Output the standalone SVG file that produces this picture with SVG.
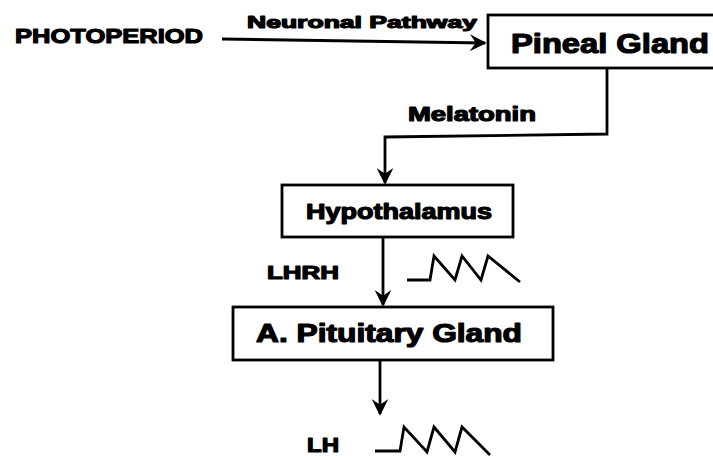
<svg xmlns="http://www.w3.org/2000/svg" width="713" height="456" viewBox="0 0 713 456">
<defs>
<marker id="ah" viewBox="0 0 10 10" refX="9" refY="5" markerWidth="6" markerHeight="6" orient="auto" markerUnits="strokeWidth">
<path d="M0,0 L10,5 L0,10 L3.5,5 z" fill="#000"/>
</marker>
<style>
.t{font-family:"Liberation Sans",Arial,sans-serif;font-weight:bold;fill:#000;stroke:#000;stroke-width:1.2;stroke-linejoin:round;}
.box{fill:#fff;stroke:#000;stroke-width:2.8;}
.ln{fill:none;stroke:#000;stroke-width:2.8;}
.wv{fill:none;stroke:#000;stroke-width:2.8;stroke-linejoin:miter;}
</style>
</defs>
<rect width="713" height="456" fill="#fff"/>
<g id="photoperiod">
<text class="t" x="15" y="43" font-size="21" textLength="188" lengthAdjust="spacingAndGlyphs">PHOTOPERIOD</text>
</g>
<g id="pineal">
<rect class="box" x="488" y="15" width="240" height="53"/>
<text class="t" x="511" y="53" font-size="27" textLength="198" lengthAdjust="spacingAndGlyphs">Pineal Gland</text>
</g>
<g id="hypothalamus">
<rect class="box" x="282" y="185" width="231" height="52"/>
<text class="t" x="306" y="219" font-size="22" textLength="186" lengthAdjust="spacingAndGlyphs">Hypothalamus</text>
</g>
<g id="pituitary">
<rect class="box" x="233" y="307" width="320" height="53"/>
<text class="t" x="256" y="342" font-size="25" textLength="266" lengthAdjust="spacingAndGlyphs">A. Pituitary Gland</text>
</g>
<g id="connectors">
<line class="ln" x1="222" y1="39" x2="485" y2="43" marker-end="url(#ah)"/>
<polyline class="ln" points="607,68 607,134 385,137 385,183" marker-end="url(#ah)"/>
<line class="ln" x1="383" y1="237" x2="383" y2="305" marker-end="url(#ah)"/>
<line class="ln" x1="380" y1="360" x2="380" y2="414" marker-end="url(#ah)"/>
</g>
<g id="labels">
<text class="t" x="247" y="28" font-size="17" textLength="230" lengthAdjust="spacingAndGlyphs">Neuronal Pathway</text>
<text class="t" x="408" y="121" font-size="20" textLength="128" lengthAdjust="spacingAndGlyphs">Melatonin</text>
<text class="t" x="267" y="279" font-size="19" textLength="72" lengthAdjust="spacingAndGlyphs">LHRH</text>
<text class="t" x="307" y="452" font-size="20" textLength="32" lengthAdjust="spacingAndGlyphs">LH</text>
</g>
<g id="waveforms">
<polyline class="wv" points="407,280 430,280 434,256 455,280 462,256 481,280 488,256 520,282"/>
<polyline class="wv" points="375,451 400,451 404,427 427,452 434,427 455,452 462,427 490,455"/>
</g>
</svg>
